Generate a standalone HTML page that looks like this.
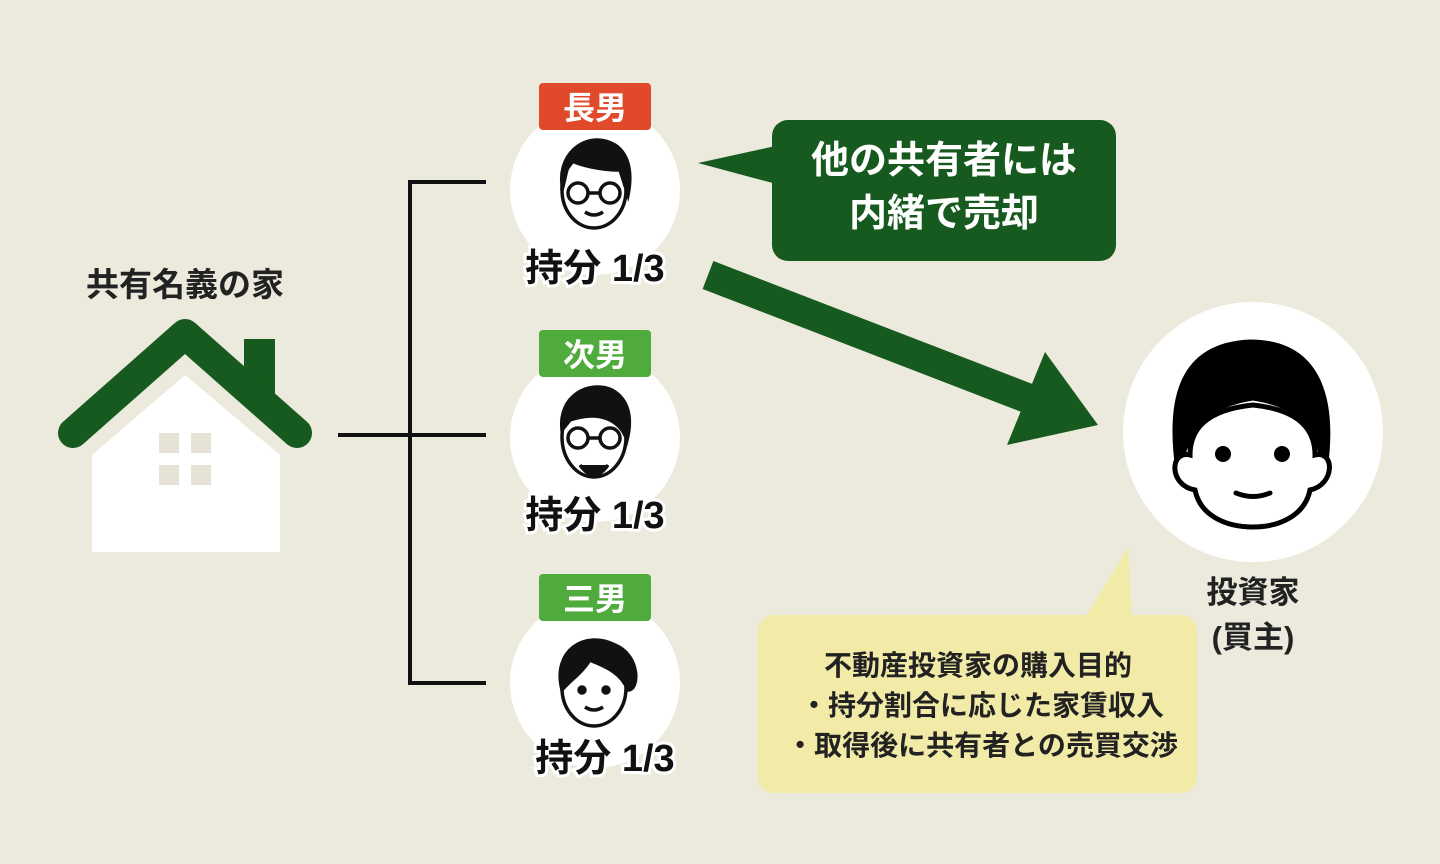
<!DOCTYPE html>
<html><head><meta charset="utf-8"><style>
html,body{margin:0;padding:0;background:#eceadc;}
svg{display:block}
text{font-family:"Liberation Sans","Noto Sans CJK JP",sans-serif;font-weight:bold;}
</style></head><body>
<svg width="1440" height="864" viewBox="0 0 1440 864">
<rect width="1440" height="864" fill="#eceadc"/>
<!-- house -->
<text x="185" y="296" font-size="33" text-anchor="middle" fill="#222">共有名義の家</text>
<polygon points="92,455 185,375 280,455 280,552 92,552" fill="#fff"/>
<rect x="159" y="433" width="20" height="20" fill="#e6e3d6"/><rect x="191" y="433" width="20" height="20" fill="#e6e3d6"/>
<rect x="159" y="465" width="20" height="20" fill="#e6e3d6"/><rect x="191" y="465" width="20" height="20" fill="#e6e3d6"/>
<rect x="244" y="339" width="31" height="60" fill="#175a1f"/>
<polyline points="73,433 185,334 297,433" fill="none" stroke="#175a1f" stroke-width="30" stroke-linejoin="round" stroke-linecap="round"/>
<!-- connectors -->
<g stroke="#111" stroke-width="4" fill="none">
<line x1="338" y1="435" x2="486" y2="435"/>
<polyline points="486,182 410,182 410,683 486,683"/>
</g>
<!-- persons -->
<g fill="#fff"><circle cx="595" cy="190" r="85"/><circle cx="595" cy="437" r="85"/><circle cx="595" cy="683" r="85"/></g>
<rect x="539" y="83" width="112" height="47" rx="4" fill="#e04a2a"/>
<text x="595" y="119" font-size="32" text-anchor="middle" fill="#fff">長男</text>
<rect x="539" y="330" width="112" height="47" rx="4" fill="#4eab3c"/>
<text x="595" y="366" font-size="32" text-anchor="middle" fill="#fff">次男</text>
<rect x="539" y="574" width="112" height="47" rx="4" fill="#4eab3c"/>
<text x="595" y="610" font-size="32" text-anchor="middle" fill="#fff">三男</text>
<!-- faces -->
<g fill="none" stroke="#111" stroke-width="3.5">
<ellipse cx="594" cy="190" rx="32" ry="38" fill="#fff"/>
<path d="M562,185 C558,150 590,130 615,145 C630,155 632,175 628,195 L620,170 C600,170 580,165 570,160 C566,170 565,180 562,190Z" fill="#111"/>
<circle cx="578" cy="193" r="10"/><circle cx="610" cy="193" r="10"/><line x1="588" y1="193" x2="600" y2="193"/>
<path d="M585,212 Q594,218 603,212"/>
<ellipse cx="594" cy="437" rx="32" ry="40" fill="#fff"/>
<path d="M562,430 C558,395 590,380 612,390 C630,400 632,420 627,440 C620,420 600,410 570,420Z" fill="#111"/>
<circle cx="578" cy="438" r="10"/><circle cx="610" cy="438" r="10"/><line x1="588" y1="438" x2="600" y2="438"/>
<path d="M580,465 Q594,485 608,465" fill="#111"/>
<ellipse cx="594" cy="688" rx="32" ry="38" fill="#fff"/>
<path d="M562,690 C552,650 585,630 615,645 C640,655 640,690 628,690 C620,670 600,665 590,660 C580,675 570,680 562,690Z" fill="#111"/>
<circle cx="582" cy="690" r="3" fill="#111"/><circle cx="606" cy="690" r="3" fill="#111"/>
<path d="M585,707 Q594,713 603,707"/>
</g>
<g font-size="38" text-anchor="middle" fill="#111" stroke="#fff" stroke-width="6" paint-order="stroke">
<text x="595" y="281">持分 1/3</text>
<text x="595" y="528">持分 1/3</text>
<text x="605" y="771">持分 1/3</text>
</g>
<!-- bubble -->
<polygon points="698,163 780,145 780,185" fill="#175a1f"/>
<rect x="772" y="120" width="344" height="141" rx="16" fill="#175a1f"/>
<text x="944" y="173" font-size="38" text-anchor="middle" fill="#fff">他の共有者には</text>
<text x="944" y="226" font-size="38" text-anchor="middle" fill="#fff">内緒で売却</text>
<!-- arrow -->
<line x1="708" y1="275" x2="1040" y2="403" stroke="#175a1f" stroke-width="30"/>
<polygon points="1045,352 1098,425 1007,445" fill="#175a1f"/>
<!-- investor -->
<circle cx="1253" cy="432" r="130" fill="#fff"/>
<g stroke="#000" stroke-width="5">
<path d="M1178,470 C1168,400 1180,345 1250,342 C1320,342 1335,400 1325,470 C1318,430 1300,405 1253,398 C1205,405 1188,430 1178,470Z" fill="#000"/>
<path d="M1190,455 C1170,450 1168,485 1195,490 C1200,515 1225,527 1253,527 C1280,527 1305,515 1310,490 C1335,485 1335,450 1315,455 C1315,430 1300,410 1253,405 C1205,410 1190,430 1190,455Z" fill="#fff"/>
</g>
<circle cx="1223" cy="454" r="8"/><circle cx="1282" cy="454" r="8"/>
<path d="M1236,493 Q1253,500 1270,493" stroke="#000" stroke-width="5" fill="none" stroke-linecap="round"/>
<text x="1253" y="603" font-size="31" text-anchor="middle" fill="#222">投資家</text>
<text x="1253" y="648" font-size="31" text-anchor="middle" fill="#222">(買主)</text>
<!-- yellow box -->
<polygon points="1085,618 1128,548 1132,618" fill="#f1eba7"/>
<rect x="758" y="615" width="439" height="178" rx="16" fill="#f1eba7"/>
<g font-size="28" text-anchor="middle" fill="#222">
<text x="978" y="675">不動産投資家の購入目的</text>
<text x="982" y="715">・持分割合に応じた家賃収入</text>
<text x="982" y="755">・取得後に共有者との売買交渉</text>
</g>
</svg>
</body></html>
